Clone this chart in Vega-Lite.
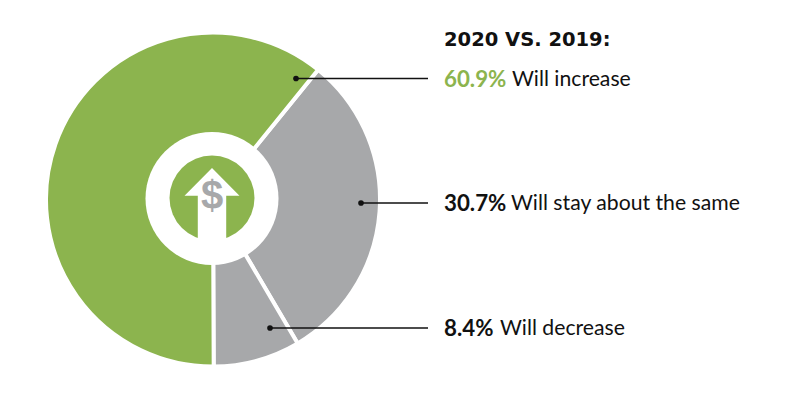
{
  "$schema": "https://vega.github.io/schema/vega-lite/v6.json",
  "width": 800, "height": 419, "padding": 0,
  "autosize": {"type": "fit", "contains": "padding"},
  "background": "white",
  "config": {"view": {"stroke": null}},
  "datasets": {
    "shares": [
      {"segment": "Will stay about the same", "share": 30.7, "rank": 1, "value": "30.7%", "anchor_x": 361, "label_x": 511, "row_y": 203},
      {"segment": "Will decrease", "share": 8.4, "rank": 2, "value": "8.4%", "anchor_x": 270, "label_x": 500, "row_y": 328},
      {"segment": "Will increase", "share": 60.9, "rank": 3, "value": "60.9%", "anchor_x": 296, "label_x": 512, "row_y": 78.5}
    ]
  },
  "encoding": {
    "x": {"type": "quantitative", "scale": {"domain": [0, 800], "nice": false, "zero": false}, "axis": null},
    "y": {"type": "quantitative", "scale": {"domain": [419, 0], "nice": false, "zero": false}, "axis": null}
  },
  "layer": [
    {
      "data": {"name": "shares"},
      "mark": {"type": "arc", "outerRadius": 167, "innerRadius": 50, "stroke": "white", "strokeWidth": 4},
      "encoding": {
        "x": {"datum": 213},
        "y": {"datum": 199.5},
        "theta": {"field": "share", "type": "quantitative", "stack": true, "scale": {"domain": [0, 100], "range": [0.6807, 6.9639]}},
        "order": {"field": "rank", "type": "quantitative"},
        "color": {"field": "segment", "type": "nominal", "legend": null,
          "scale": {"domain": ["Will increase", "Will stay about the same", "Will decrease"], "range": ["#8CB44E", "#A7A8AA", "#A7A8AA"]}}
      }
    },
    {
      "data": {"values": [{"part": "ring", "x": 212, "y": 198.5}]},
      "mark": {"type": "point", "shape": "circle", "filled": true, "opacity": 1, "fill": "white", "size": 17689},
      "encoding": {"x": {"field": "x"}, "y": {"field": "y"}}
    },
    {
      "data": {"values": [{"part": "disc", "x": 212, "y": 198}]},
      "mark": {"type": "point", "shape": "circle", "filled": true, "opacity": 1, "fill": "#8CB44E", "size": 7225},
      "encoding": {"x": {"field": "x"}, "y": {"field": "y"}}
    },
    {
      "data": {"values": [{"part": "arrow", "x": 212, "y": 205}]},
      "mark": {"type": "point", "shape": "M0,-1L0.743,-0.25L0.384,-0.25L0.384,1L-0.384,1L-0.384,-0.25L-0.743,-0.25Z", "filled": true, "opacity": 1, "fill": "white", "size": 5476},
      "encoding": {"x": {"field": "x"}, "y": {"field": "y"}}
    },
    {
      "data": {"values": [{"part": "dollar", "x": 212, "y": 196.5, "text": "$"}]},
      "mark": {"type": "text", "font": "Liberation Sans", "fontWeight": "bold", "fontSize": 40, "fill": "#A7A8AA", "align": "center", "baseline": "middle"},
      "encoding": {"x": {"field": "x"}, "y": {"field": "y"}, "text": {"field": "text"}}
    },
    {
      "data": {"name": "shares"},
      "mark": {"type": "rule", "stroke": "#111111", "strokeWidth": 1.3},
      "encoding": {"x": {"field": "anchor_x"}, "x2": {"datum": 428}, "y": {"field": "row_y"}}
    },
    {
      "data": {"name": "shares"},
      "mark": {"type": "point", "shape": "circle", "filled": true, "opacity": 1, "fill": "#111111", "size": 32},
      "encoding": {"x": {"field": "anchor_x"}, "y": {"field": "row_y"}}
    },
    {
      "data": {"name": "shares"},
      "mark": {"type": "text", "font": "Lato", "fontWeight": "bold", "fontSize": 22.3, "dy": 1, "align": "left", "baseline": "middle"},
      "encoding": {
        "x": {"datum": 444},
        "y": {"field": "row_y"},
        "text": {"field": "value"},
        "color": {"field": "segment", "type": "nominal", "legend": null,
          "scale": {"domain": ["Will increase", "Will stay about the same", "Will decrease"], "range": ["#8CB44E", "#A7A8AA", "#A7A8AA"]},
          "condition": {"test": "datum.segment !== 'Will increase'", "value": "#111111"}}
      }
    },
    {
      "data": {"name": "shares"},
      "mark": {"type": "text", "font": "Lato", "fontSize": 21.2, "dy": 1, "fill": "#111111", "align": "left", "baseline": "middle"},
      "encoding": {"x": {"field": "label_x"}, "y": {"field": "row_y"}, "text": {"field": "segment"}}
    },
    {
      "data": {"values": [{"title": "2020 VS. 2019:", "x": 444, "y": 40}]},
      "mark": {"type": "text", "font": "DejaVu Sans", "fontWeight": "bold", "fontSize": 19.5, "fill": "#111111", "align": "left", "baseline": "middle"},
      "encoding": {"x": {"field": "x"}, "y": {"field": "y"}, "text": {"field": "title"}}
    }
  ]
}
